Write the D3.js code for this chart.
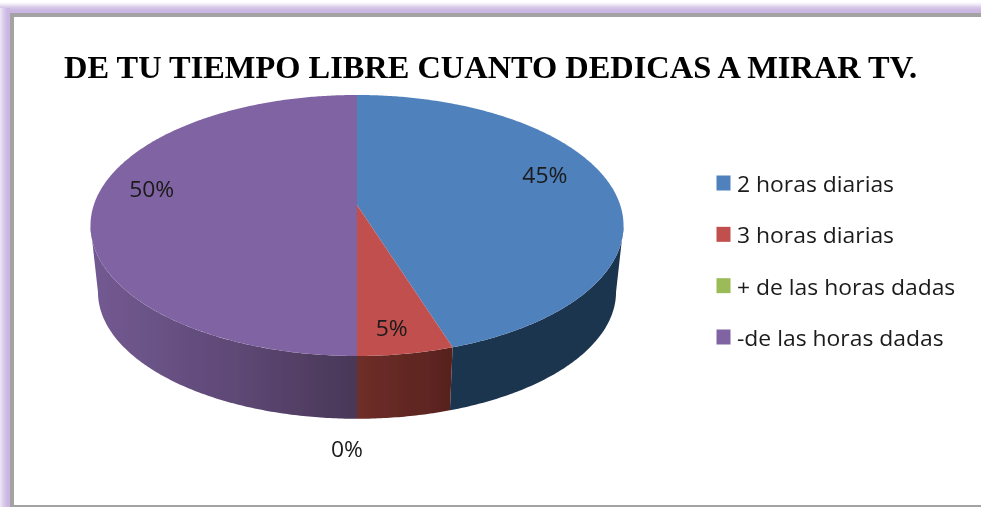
<!DOCTYPE html>
<html><head><meta charset="utf-8">
<script src="https://cdn.jsdelivr.net/npm/d3@7/dist/d3.min.js"></script>
<style>html,body{margin:0;padding:0;background:#fff}svg{display:block}</style>
</head><body><svg id="c" width="981" height="507"></svg>
<script>
const title = "DE TU TIEMPO LIBRE CUANTO DEDICAS A MIRAR TV.";
const categories = ["2 horas diarias","3 horas diarias","+ de las horas dadas","-de las horas dadas"];
const values = [45,5,0,50];
const topColors = ["#4f81bd","#c0504d","#9bbb59","#8064a2"];

const svg = d3.select("#c"), defs = svg.append("defs");
function grad(id,x1,y1,x2,y2,stops){
  const g=defs.append("linearGradient").attr("id",id).attr("gradientUnits","userSpaceOnUse")
    .attr("x1",x1).attr("y1",y1).attr("x2",x2).attr("y2",y2);
  stops.forEach(s=>g.append("stop").attr("offset",s[0]).attr("stop-color",s[1]));
  return `url(#${id})`;
}
defs.append("filter").attr("id","soft").attr("x","-5%").attr("y","-20%").attr("width","110%").attr("height","140%")
  .append("feGaussianBlur").attr("stdDeviation",0.45);

// frame
svg.append("rect").attr("x",0).attr("y",0).attr("width",981).attr("height",14)
  .attr("fill",grad("gt",0,2,0,13,[[0,"#ffffff"],[0.25,"#eee8f5"],[0.5,"#d6c8e8"],[0.75,"#ccb8e3"],[1,"#cbb6e3"]]));
svg.append("rect").attr("x",0).attr("y",8).attr("width",10).attr("height",499)
  .attr("fill",grad("gl",0,0,9,0,[[0,"#efe9f6"],[0.4,"#d9cbea"],[0.8,"#ccb8e3"],[1,"#cbb6e3"]]));
svg.append("rect").attr("x",10).attr("y",13).attr("width",971).attr("height",4).attr("fill","#a3a3a3");
svg.append("rect").attr("x",10).attr("y",13).attr("width",4).attr("height",494).attr("fill","#a3a3a3");
svg.append("rect").attr("x",10).attr("y",505).attr("width",971).attr("height",2).attr("fill","#a3a3a3");
svg.append("rect").attr("x",14).attr("y",17).attr("width",967).attr("height",488).attr("fill","#fff");

// projective pie geometry
const k=0.157;
const px=d3.scaleLinear().domain([-1,1]).range([357-263.2,357+263.2]);
const py=d3.scaleLinear().domain([-1,1]).range([205-127.3,205+127.3]);
const base=(t,r)=>{const u=r*Math.sin(t),v=-r*Math.cos(t),w=1-k*v;return [px(u/w),py(v/w)];};
const depthS=0.972, depthD=67;
const low=(t)=>{const p=base(t,1);return [px(0)+(p[0]-px(0))*depthS, py(0)+(p[1]-py(0))*depthS+depthD];};
const line=d3.line();
const samples=(a,b)=>{const n=Math.max(2,Math.ceil((b-a)/0.01));return d3.range(n+1).map(i=>a+(b-a)*i/n);};

const arcs=d3.pie().sort(null).value(d=>d)(values);
const wallMin=Math.acos(-k), wallMax=2*Math.PI-wallMin;
const wallFill=[
  "#1f3450",
  grad("wr",357,0,452,0,[[0,"#6e2e29"],[1,"#58221e"]]),
  "#5f7538",
  grad("wp",90,0,357,0,[[0,"#735a92"],[0.5,"#604a78"],[1,"#493757"]])
];
const blur=svg.append("g").attr("filter","url(#soft)");
arcs.forEach((a,i)=>{
  const s=Math.max(a.startAngle,wallMin), e=Math.min(a.endAngle,wallMax);
  if(e<=s) return;
  const ts=samples(s,e);
  blur.append("path").attr("d",line(ts.map(low).concat(ts.slice().reverse().map(t=>base(t,1))))+"Z")
    .attr("fill",wallFill[i]);
});
arcs.forEach((a,i)=>{
  if(a.endAngle<=a.startAngle) return;
  const pts=[base(0,0)].concat(samples(a.startAngle,a.endAngle).map(t=>base(t,1)));
  blur.append("path").attr("d",line(pts)+"Z").attr("fill",topColors[i]);
});

// title
svg.append("text").attr("x",64).attr("y",78).attr("font-family","Liberation Serif").attr("font-weight","bold")
  .attr("font-size",32).attr("fill","#000").attr("textLength",853).attr("lengthAdjust","spacingAndGlyphs")
  .attr("filter","url(#soft)").text(title);

const labelFont="Open Sans", labelSize=21, stretch=1.09;
function widen(sel){
  sel.each(function(){
    this.setAttribute("textLength",this.getComputedTextLength()*stretch);
    this.setAttribute("lengthAdjust","spacingAndGlyphs");
  });
}
// value labels: radial factor along the slice's mid angle + nudge
const place=[[0.72,4,-15],[0.82,-4,6],[1.0,-10,94],[0.78,0,-15]];
arcs.forEach((a,i)=>{
  const m=(a.startAngle+a.endAngle)/2, p=base(m,place[i][0]);
  svg.append("text").attr("x",p[0]+place[i][1]).attr("y",p[1]+place[i][2]+7)
    .attr("text-anchor","middle").attr("font-family",labelFont).attr("font-size",labelSize)
    .attr("fill","#1a1a1a").attr("filter","url(#soft)").text(d3.format(".0%")(values[i]/100)).call(widen);
});

// legend
const ly=d3.scalePoint().domain(categories).range([183,337]);
const leg=svg.append("g").selectAll("g").data(categories).join("g").attr("transform",d=>`translate(0,${ly(d)})`);
leg.append("rect").attr("x",716.5).attr("y",-7.5).attr("width",14).attr("height",15)
  .attr("fill",(d,i)=>topColors[i]).attr("filter","url(#soft)");
leg.append("text").attr("x",737).attr("y",9).attr("font-family",labelFont).attr("font-size",labelSize)
  .attr("fill","#1a1a1a").attr("filter","url(#soft)").text(d=>d).call(widen);
</script></body></html>
